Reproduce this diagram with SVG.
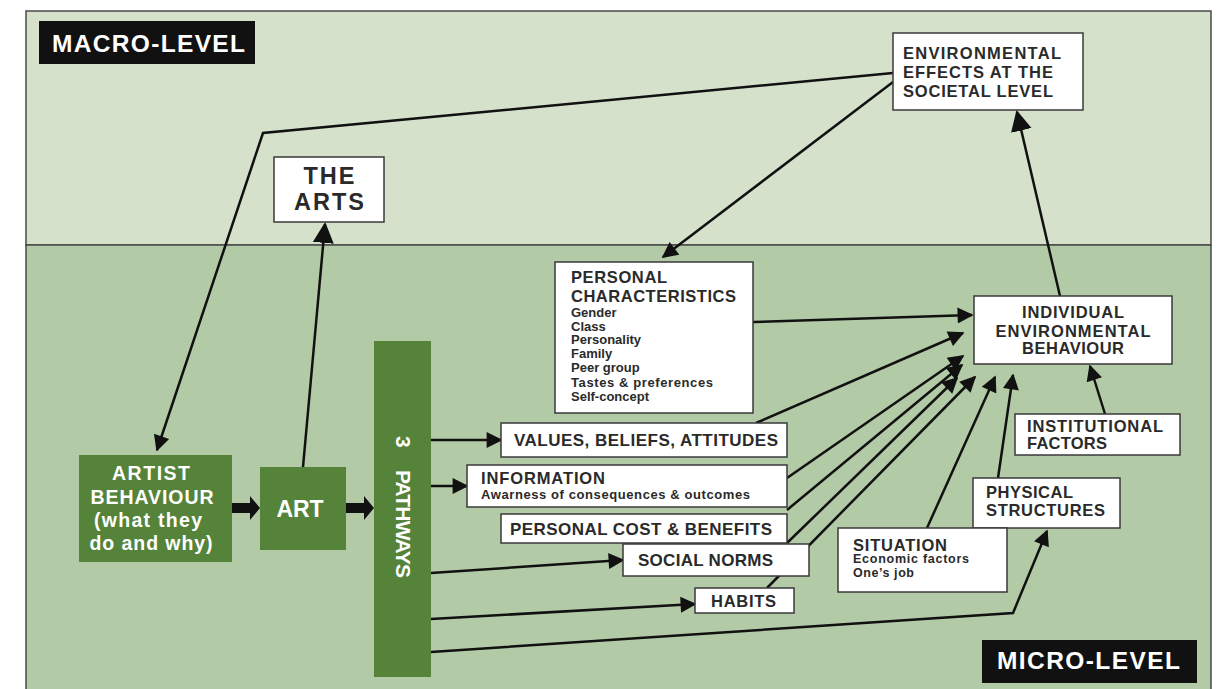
<svg xmlns="http://www.w3.org/2000/svg" width="1217" height="689" viewBox="0 0 1217 689">
<style>
.bg{stroke:#4a4a4a;stroke-width:1.5}
.box{fill:#fff;stroke:#3a3a3a;stroke-width:1.5}
.gbox{fill:#55833a}
.lbl{fill:#111}
.t{font-family:"Liberation Sans",Arial,sans-serif;font-weight:bold;fill:#2a2a2a}
.w{font-family:"Liberation Sans",Arial,sans-serif;font-weight:bold;fill:#fff}
.ln{fill:none;stroke:#111;stroke-width:2.5;stroke-linejoin:miter}
.arr{marker-end:url(#ah)}
</style>
<defs>
<marker id="ah" viewBox="0 0 10 10" refX="9" refY="5" markerWidth="19" markerHeight="16" markerUnits="userSpaceOnUse" orient="auto">
<path d="M0,0 L10,5 L0,10 z" fill="#111"/>
</marker>
<marker id="ahb" viewBox="0 0 10 10" refX="9" refY="5" markerWidth="21" markerHeight="23" markerUnits="userSpaceOnUse" orient="auto">
<path d="M0,0 L10,5 L0,10 z" fill="#111"/>
</marker>
</defs>
<rect width="1217" height="689" fill="#fff"/>
<g id="background">
<rect class="bg" x="26" y="11" width="1185" height="234" fill="#d5e1cb"/>
<rect class="bg" x="26" y="245" width="1185" height="450" fill="#b3caa6"/>
</g>
<g id="macro-level">
<rect class="lbl" x="39" y="21" width="216" height="43"/>
<text class="w" x="52" y="52" font-size="24.5" textLength="193">MACRO-LEVEL</text>
</g>
<g id="micro-level">
<rect class="lbl" x="982" y="640" width="215" height="43"/>
<text class="w" x="997" y="669" font-size="24.5" textLength="183">MICRO-LEVEL</text>
</g>
<g id="connectors">
<polyline class="ln arr" points="893,73 263,133 157,450"/>
<line class="ln arr" x1="893" y1="82" x2="663" y2="257"/>
<line class="ln" x1="1060" y1="296" x2="1017" y2="112" marker-end="url(#ahb)"/>
<line class="ln" x1="303" y1="467" x2="325" y2="224" marker-end="url(#ahb)"/>
<path d="M232,503 L250,503 L250,496 L260,508 L250,520 L250,513 L232,513 z" fill="#111"/>
<path d="M346,503 L364,503 L364,496 L374,508 L364,520 L364,513 L346,513 z" fill="#111"/>
<line class="ln arr" x1="431" y1="440" x2="501" y2="440"/>
<line class="ln arr" x1="431" y1="486" x2="467" y2="486"/>
<line class="ln arr" x1="431" y1="573" x2="623" y2="560"/>
<line class="ln arr" x1="431" y1="619" x2="695" y2="604"/>
<polyline class="ln arr" points="431,652 1013,613 1047,531"/>
<line class="ln arr" x1="753" y1="322" x2="972" y2="315"/>
<line class="ln arr" x1="756" y1="423" x2="963" y2="333"/>
<line class="ln arr" x1="787" y1="478" x2="963" y2="356"/>
<line class="ln arr" x1="787" y1="510" x2="962" y2="365"/>
<line class="ln arr" x1="787" y1="543" x2="957" y2="378"/>
<line class="ln arr" x1="767" y1="588" x2="975" y2="377"/>
<line class="ln arr" x1="927" y1="528" x2="995" y2="377"/>
<line class="ln arr" x1="998" y1="478" x2="1013" y2="375"/>
<line class="ln arr" x1="1105" y1="414" x2="1090" y2="366"/>
</g>
<g id="env-effects">
<rect class="box" x="893" y="33" width="190" height="77"/>
<text class="t" font-size="16.5"><tspan x="903" y="59" textLength="158">ENVIRONMENTAL</tspan><tspan x="903" y="78" textLength="150">EFFECTS AT THE</tspan><tspan x="903" y="97" textLength="150">SOCIETAL LEVEL</tspan></text>
</g>
<g id="the-arts">
<rect class="box" x="274" y="157" width="110" height="65"/>
<text class="t" font-size="23.5" text-anchor="middle"><tspan x="329" y="184" textLength="51">THE</tspan><tspan x="329" y="210" textLength="70">ARTS</tspan></text>
</g>
<g id="personal-characteristics">
<rect class="box" x="555" y="262" width="198" height="151"/>
<text class="t" font-size="16.5"><tspan x="571" y="283" textLength="96">PERSONAL</tspan><tspan x="571" y="302" textLength="165">CHARACTERISTICS</tspan></text>
<text class="t" font-size="13"><tspan x="571" y="317">Gender</tspan><tspan x="571" y="331">Class</tspan><tspan x="571" y="344">Personality</tspan><tspan x="571" y="358">Family</tspan><tspan x="571" y="372">Peer group</tspan><tspan x="571" y="387" textLength="142">Tastes &amp; preferences</tspan><tspan x="571" y="401">Self-concept</tspan></text>
</g>
<g id="individual-behaviour">
<rect class="box" x="974" y="296" width="198" height="68"/>
<text class="t" font-size="16.5" text-anchor="middle"><tspan x="1073" y="318" textLength="102">INDIVIDUAL</tspan><tspan x="1073" y="337" textLength="155">ENVIRONMENTAL</tspan><tspan x="1073" y="354" textLength="102">BEHAVIOUR</tspan></text>
</g>
<g id="institutional-factors">
<rect class="box" x="1015" y="414" width="165" height="41"/>
<text class="t" font-size="16.5"><tspan x="1027" y="432" textLength="136">INSTITUTIONAL</tspan><tspan x="1027" y="449" textLength="80">FACTORS</tspan></text>
</g>
<g id="physical-structures">
<rect class="box" x="973" y="478" width="147" height="50"/>
<text class="t" font-size="16.5"><tspan x="986" y="498" textLength="87">PHYSICAL</tspan><tspan x="986" y="516" textLength="119">STRUCTURES</tspan></text>
</g>
<g id="situation">
<rect class="box" x="838" y="528" width="169" height="64"/>
<text class="t" font-size="16.5" x="853" y="551" textLength="94">SITUATION</text>
<text class="t" font-size="12.5"><tspan x="853" y="563" textLength="116">Economic factors</tspan><tspan x="853" y="577" textLength="61">One’s job</tspan></text>
</g>
<g id="values">
<rect class="box" x="501" y="423" width="286" height="34"/>
<text class="t" font-size="17" x="514" y="446" textLength="264">VALUES, BELIEFS, ATTITUDES</text>
</g>
<g id="information">
<rect class="box" x="467" y="465" width="320" height="42"/>
<text class="t" font-size="16.5" x="481" y="484" textLength="124">INFORMATION</text>
<text class="t" font-size="13" x="481" y="499" textLength="269">Awarness of consequences &amp; outcomes</text>
</g>
<g id="personal-cost">
<rect class="box" x="501" y="514" width="286" height="29"/>
<text class="t" font-size="17" x="510" y="535" textLength="262">PERSONAL COST &amp; BENEFITS</text>
</g>
<g id="social-norms">
<rect class="box" x="623" y="544" width="186" height="32"/>
<text class="t" font-size="17" x="638" y="566" textLength="135">SOCIAL NORMS</text>
</g>
<g id="habits">
<rect class="box" x="695" y="588" width="99" height="25"/>
<text class="t" font-size="16.5" x="711" y="607" textLength="65">HABITS</text>
</g>
<g id="artist-behaviour">
<rect class="gbox" x="79" y="455" width="153" height="107"/>
<text class="w" font-size="19.5" text-anchor="middle"><tspan x="151" y="480" textLength="78">ARTIST</tspan><tspan x="152" y="504" textLength="123">BEHAVIOUR</tspan><tspan x="148" y="527" textLength="108">(what they</tspan><tspan x="151" y="550" textLength="123">do and why)</tspan></text>
</g>
<g id="art">
<rect class="gbox" x="260" y="467" width="86" height="83"/>
<text class="w" font-size="23" x="300" y="517" text-anchor="middle" textLength="47">ART</text>
</g>
<g id="pathways">
<rect class="gbox" x="374" y="341" width="57" height="336"/>
<text class="w" font-size="21" transform="translate(396,436) rotate(90)"><tspan x="0" y="0">3</tspan><tspan x="34" y="0" textLength="108">PATHWAYS</tspan></text>
</g>
</svg>
